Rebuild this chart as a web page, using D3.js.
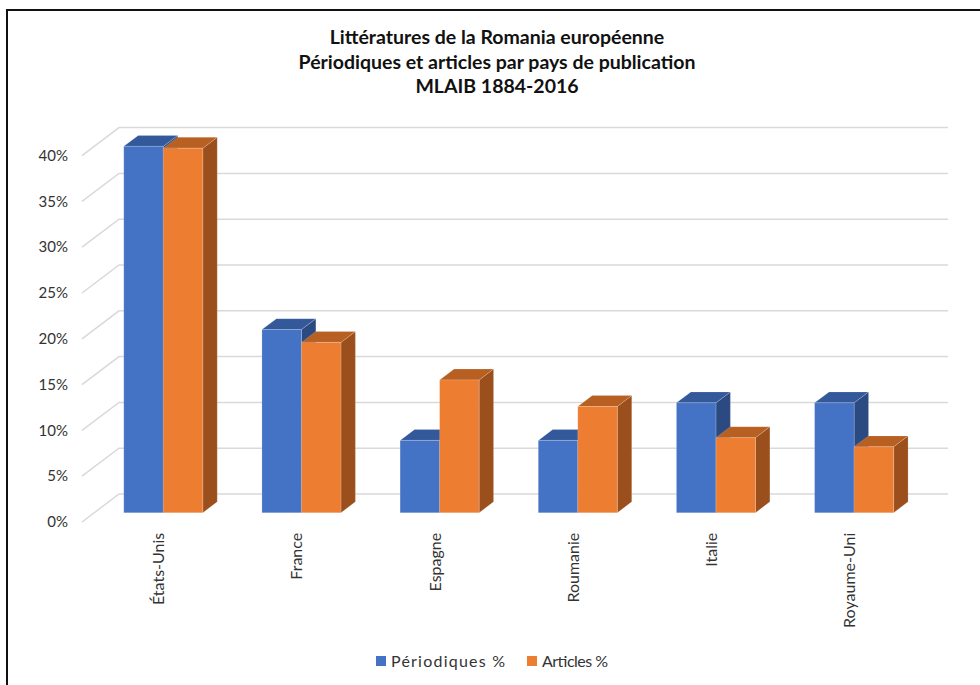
<!DOCTYPE html>
<html>
<head>
<meta charset="utf-8">
<script src="https://cdn.jsdelivr.net/npm/d3@7"></script>
<style>
  html, body { margin: 0; padding: 0; background: #fff; }
  svg { display: block; }
  text { font-family: "Lato", "Open Sans", sans-serif; fill: #333; }
</style>
</head>
<body>
<svg id="chart" width="980" height="685"></svg>
<script>
// ---- data ----
const categories = ["États-Unis", "France", "Espagne", "Roumanie", "Italie", "Royaume-Uni"];
const seriesNames = ["Périodiques %", "Articles %"];
const periodiques = [40.0, 20.0, 7.9, 7.9, 12.0, 12.0];
const articles = [39.8, 18.6, 14.5, 11.6, 8.2, 7.2];
const tickValues = [0, 5, 10, 15, 20, 25, 30, 35, 40];
const titleLines = ["Littératures de la Romania européenne", "Périodiques et articles par pays de publication", "MLAIB 1884-2016"];

const seriesValues = [periodiques, articles];
const colors = [
  { front: "#4472C4", top: "#34599B", side: "#2B4A82" },
  { front: "#ED7D31", top: "#B85F22", side: "#9A4F1D" }
];

const svg = d3.select("#chart");

// geometry of the oblique 3D projection
const X0 = 82, Y0 = 522;          // front-left corner of the floor
const W = 829;                     // plot width on the front plane
const DX = 37, DY = -28;           // full depth vector (front -> back wall)
const F0 = 0.33, F1 = 0.72;        // bar depth band

const y = d3.scaleLinear().domain([0, 40]).range([0, 366.4]);
const x = d3.scaleBand().domain(categories).range([0, W]).paddingInner(0.428).paddingOuter(0.214);
const x1 = d3.scaleBand().domain(seriesNames).range([0, x.bandwidth()]);

function P(px, v, f) { return [X0 + px + f * DX, Y0 - y(v) + f * DY]; }
const poly = pts => "M" + pts.map(p => p.join(",")).join("L") + "Z";

// border
svg.append("path").attr("d", "M7,685V10H980").attr("fill", "none").attr("stroke", "#111").attr("stroke-width", 2);

// title
const title = svg.append("text").attr("text-anchor", "middle")
  .style("font-weight", "bold").style("font-size", "19.5px").style("fill", "#111");
titleLines.forEach((t, i) => {
  title.append("tspan").attr("x", 497).attr("y", 44 + i * 24.5).text(t);
});

// gridlines: back wall + left wall diagonals
const grid = svg.append("g").attr("stroke", "#d9d9d9").attr("stroke-width", 1.5).attr("fill", "none");
tickValues.forEach(v => {
  const a = P(0, v, 0), b = P(0, v, 1), c = P(W, v, 1);
  grid.append("path").attr("d", `M${a}L${b}L${c}`);
});

// y tick labels
svg.append("g").selectAll("text").data(tickValues).join("text")
  .attr("x", 68).attr("y", v => P(0, v, 0)[1])
  .attr("dy", "0.35em").attr("text-anchor", "end")
  .style("font-size", "15px")
  .text(v => v + "%");

// bars
const bars = svg.append("g");
categories.forEach((cat, ci) => {
  seriesNames.forEach((s, si) => {
    const v = seriesValues[si][ci];
    const xl = x(cat) + x1(s), xr = xl + x1.bandwidth();
    const col = colors[si];
    const g = bars.append("g").attr("stroke", "rgba(255,255,255,0.25)").attr("stroke-width", 0.7).attr("stroke-linejoin", "round");
    g.append("path").attr("fill", col.side)
      .attr("d", poly([P(xr, 0, F0), P(xr, 0, F1), P(xr, v, F1), P(xr, v, F0)]));
    g.append("path").attr("fill", col.top)
      .attr("d", poly([P(xl, v, F0), P(xr, v, F0), P(xr, v, F1), P(xl, v, F1)]));
    g.append("path").attr("fill", col.front)
      .attr("d", poly([P(xl, 0, F0), P(xr, 0, F0), P(xr, v, F0), P(xl, v, F0)]));
  });
});

// category labels (rotated)
svg.append("g").selectAll("text").data(categories).join("text")
  .attr("transform", d => {
    const p = P(x(d) + x.bandwidth() / 2, 0, F0);
    return `translate(${p[0] + 1},${p[1] + 20}) rotate(-90)`;
  })
  .attr("text-anchor", "end")
  .style("font-size", "16px")
  .text(d => d);

// legend
const legend = svg.append("g");
const legendX = [376, 527];
const legendW = [114, 66];
seriesNames.forEach((s, i) => {
  legend.append("rect").attr("x", legendX[i]).attr("y", 656).attr("width", 10).attr("height", 10).attr("fill", colors[i].front);
  legend.append("text").attr("x", legendX[i] + 15).attr("y", 667)
    .attr("textLength", legendW[i]).attr("lengthAdjust", "spacing")
    .style("font-size", "16px").text(s);
});
</script>
</body>
</html>
